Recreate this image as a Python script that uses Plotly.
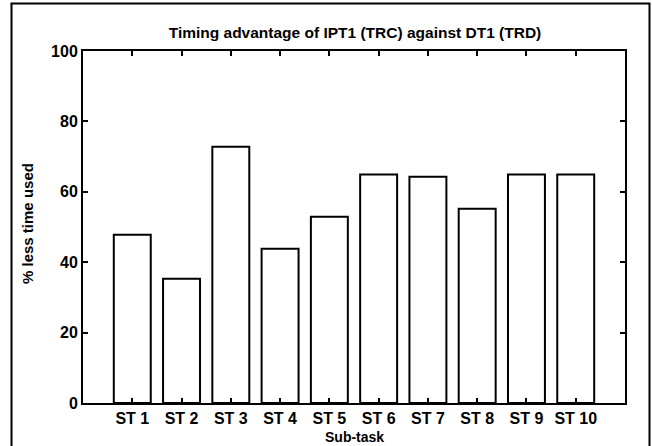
import plotly.graph_objects as go

categories = ["ST 1", "ST 2", "ST 3", "ST 4", "ST 5", "ST 6", "ST 7", "ST 8", "ST 9", "ST 10"]
values = [47.8, 35.3, 72.8, 43.8, 52.9, 64.9, 64.3, 55.2, 64.9, 64.9]
y_ticks = [0, 20, 40, 60, 80, 100]

positions = list(range(1, len(categories) + 1))
FONT = "Liberation Sans, Arial, sans-serif"

fig = go.Figure()
fig.add_trace(go.Bar(
    x=positions, y=values, width=0.75,
    marker=dict(color="white", line=dict(color="black", width=2)),
    showlegend=False,
))

W, H = 652, 446
PL, PR, PT, PB = 83, 625, 51, 403  # plot area in page pixels
ml, mt = PL, PT
mr = W - PR
mb = H - PB
pw, ph = PR - PL, PB - PT

def px_x(px):
    return (px - PL) / pw

def px_y(py):
    return (PB - py) / ph

fig.update_layout(
    width=W, height=H,
    margin=dict(l=ml, r=mr, t=mt, b=mb, pad=0),
    paper_bgcolor="white", plot_bgcolor="white",
    font=dict(family=FONT, color="black", size=16, weight="bold"),
    title=dict(text="Timing advantage of IPT1 (TRC) against DT1 (TRD)",
               x=px_x(355), xref="paper", xanchor="center",
               y=1 - 33 / H, yref="container", yanchor="middle",
               font=dict(size=15.5, family=FONT, weight="bold")),
    xaxis=dict(range=[0, 11], tickvals=positions, ticktext=categories,
               showline=True, linewidth=2, linecolor="black", mirror="ticks",
               ticks="inside", ticklen=5, tickwidth=2, tickcolor="black",
               showgrid=False, zeroline=False,
               tickfont=dict(size=16, family=FONT, weight="bold")),
    yaxis=dict(range=[0, 100], tickvals=y_ticks,
               showline=True, linewidth=2, linecolor="black", mirror="ticks",
               ticks="inside", ticklen=5, tickwidth=2, tickcolor="black",
               showgrid=False, zeroline=False,
               tickfont=dict(size=16, family=FONT, weight="bold")),
    shapes=[dict(type="rect", xref="paper", yref="paper",
                 x0=px_x(11.5), x1=px_x(649.5), y0=px_y(480), y1=px_y(3.5),
                 line=dict(color="black", width=2), fillcolor="rgba(0,0,0,0)",
                 layer="below")],
    annotations=[
        dict(text="% less time used", xref="paper", yref="paper",
             x=px_x(27), y=px_y(224), textangle=-90, showarrow=False,
             xanchor="center", yanchor="middle",
             font=dict(size=15, family=FONT, weight="bold")),
        dict(text="Sub-task", xref="paper", yref="paper",
             x=px_x(354), y=px_y(437), showarrow=False,
             xanchor="center", yanchor="middle",
             font=dict(size=14, family=FONT, weight="bold")),
    ],
)

fig.write_html("out.html",
               config={"displayModeBar": False},
               post_script="document.body.style.margin='0';document.body.style.overflow='hidden';")
